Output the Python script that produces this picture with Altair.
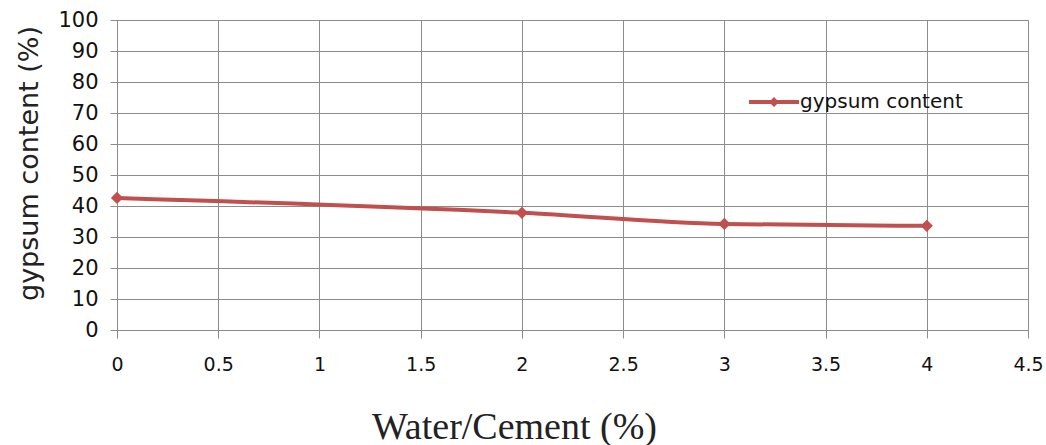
import altair as alt
import pandas as pd

ratio = [0, 2, 3, 4]
gypsum = [42.6, 37.8, 34.2, 33.6]
series = ["gypsum content"] * len(ratio)

df = pd.DataFrame({"ratio": ratio, "gypsum": gypsum, "series": series})

red = "#C0504D"
grid = "#8c8c8c"
font = "DejaVu Sans"

# legend glyph: a short line with a diamond in the middle
glyph = ("M-1,-0.08L1,-0.08L1,0.08L-1,0.08Z "
         "M0,-0.2L0.2,0L0,0.2L-0.2,0Z")

x = alt.X("ratio:Q",
          scale=alt.Scale(domain=[0, 4.5], nice=False),
          axis=alt.Axis(values=[0, 0.5, 1, 1.5, 2, 2.5, 3, 3.5, 4, 4.5],
                        format="~g", labelOverlap=False,
                        title="Water/Cement (%)",
                        titleFont="Liberation Serif", titleFontSize=38,
                        titleFontWeight="normal", titleColor="#222",
                        titlePadding=34, titleX=397,
                        labelFont=font, labelFontSize=19,
                        labelColor="#111", labelPadding=17,
                        labelFlush=False,
                        tickSize=8, tickColor=grid, domainColor=grid,
                        gridColor=grid))
y = alt.Y("gypsum:Q",
          scale=alt.Scale(domain=[0, 100], nice=False),
          axis=alt.Axis(values=list(range(0, 101, 10)),
                        format="d", labelOverlap=False,
                        title="gypsum content (%)",
                        titleFont=font, titleFontSize=27,
                        titleFontWeight="normal", titleColor="#222",
                        titlePadding=14, titleY=143,
                        labelFont=font, labelFontSize=21,
                        labelColor="#111", labelPadding=12,
                        tickSize=7, tickColor=grid, domainColor=grid,
                        gridColor=grid))

color = alt.Color("series:N",
                  scale=alt.Scale(range=[red]),
                  legend=alt.Legend(title=None, orient="none",
                                    legendX=632, legendY=57,
                                    symbolType=glyph, symbolSize=2500,
                                    symbolFillColor=red, symbolStrokeWidth=0,
                                    labelFont=font, labelFontSize=20,
                                    labelLimit=400,
                                    labelColor="#111", labelOffset=1))

line = alt.Chart(df).mark_line(interpolate="monotone", strokeWidth=4).encode(
    x=x, y=y, color=color)
points = alt.Chart(df).mark_point(shape="diamond", filled=True, size=150,
                                  opacity=1).encode(
    x=x, y=y, color=alt.Color("series:N", legend=None))

chart = (line + points).properties(
    width=911, height=310,
    autosize=alt.AutoSizeParams(type="none"),
    padding={"left": 117, "top": 20, "right": 18, "bottom": 115},
).configure_view(stroke=grid, strokeWidth=1).configure(background="white")

chart.save("out.html", embed_options={"renderer": "svg", "actions": False})
